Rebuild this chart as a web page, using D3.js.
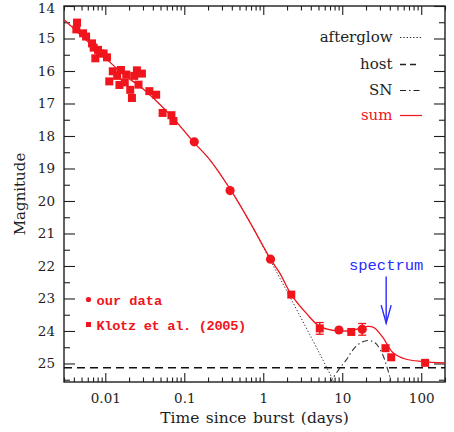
<!DOCTYPE html>
<html><head><meta charset="utf-8">
<script src="https://cdn.jsdelivr.net/npm/d3@7"></script>
<style>
html,body{margin:0;padding:0;background:#fff;}
svg{display:block;}
</style></head>
<body>
<svg id="chart" width="454" height="432"></svg>
<script>
// ---- data ----
const klotzPoints = [ // [days, mag] squares
  [0.00439,14.51],[0.00430,14.72],[0.00523,14.84],[0.00571,14.94],[0.00679,15.15],
  [0.00712,15.28],[0.00809,15.35],[0.00748,15.61],[0.00847,15.46],[0.00952,15.46],
  [0.0105,15.58],[0.01244,16.01],[0.01123,16.32],[0.01413,16.15],[0.01578,15.97],
  [0.01511,16.43],[0.01763,16.35],[0.01842,16.11],[0.02069,16.58],[0.02174,16.83],
  [0.02513,15.98],[0.02324,16.15],[0.02907,16.08],[0.02634,16.42],[0.03615,16.62],
  [0.04405,16.73],[0.05321,17.29],[0.06874,17.36],[0.07286,17.54],
  [2.263,22.88],[5.19,23.92],[13.0,24.03],[35.3,24.53],[41.7,24.81],[112,24.98]
];
const ourPoints = [ // [days, mag] circles
  [0.1337,18.18],[0.380,19.68],[1.236,21.79],[9.08,23.97],[17.9,23.95]
];
const errorBars = [ // [days, mag, err]
  [5.19,23.92,0.18],[17.9,23.95,0.18]
];
const sumCurve = [
  [0.00303,14.43],[0.00865,15.45],[0.01763,16.14],[0.02767,16.48],[0.0662,17.35],
  [0.1302,18.18],[0.212,18.74],[0.387,19.66],[0.677,20.65],[1.236,21.79],[1.62,22.22],
  [2.263,22.88],[3.52,23.46],[5.18,23.86],[7.63,23.98],[11.27,24.00],[15.07,23.95],
  [18.25,23.88],[22.18,23.86],[25.6,23.91],[32.66,24.20],[43.67,24.66],[64.5,24.87],
  [104.4,24.94],[200,24.98]
];
const afterglowCurve = [
  [0.00303,14.43],[0.00865,15.45],[0.01763,16.14],[0.02767,16.48],[0.0662,17.35],
  [0.1302,18.18],[0.212,18.74],[0.387,19.66],[0.677,20.66],[1.236,21.84],
  [2.263,23.03],[5.18,24.70],[8.3,25.68]
];
const snCurve = [
  [7.0,25.65],[7.14,25.57],[9.27,25.15],[11.27,24.89],[13.65,24.58],[16.59,24.38],
  [20.15,24.30],[23.5,24.31],[26.96,24.40],[32.66,24.74],[36.67,25.10],[39.67,25.38],[41.2,25.68]
];
const hostMag = 25.13;
const spectrumDay = 36;
const spectrumArrow = [22.32, 23.76]; // mag of arrow top, tip
const xTickValues = [0.01, 0.1, 1, 10, 100];
const xTickLabels = ["0.01", "0.1", "1", "10", "100"];
const yTickValues = [14,15,16,17,18,19,20,21,22,23,24,25];
const yMinorValues = [14.5,15.5,16.5,17.5,18.5,19.5,20.5,21.5,22.5,23.5,24.5,25.5];
const legendItems = ["afterglow", "host", "SN", "sum"];
const dataLegend = ["our data", "Klotz et al. (2005)"];

// ---- layout ----
const L = 64, R = 445, T = 6, B = 382;
const RED = "#f0141c", TXT = "#1e1e1e";
const svg = d3.select("#chart");
const x = d3.scaleLog().domain([0.003, 200]).range([L, R]);
const y = d3.scaleLinear().domain([14, 25.57]).range([T, B]);

const xMinor = [];
[0.001,0.01,0.1,1,10,100].forEach(d => { for (let k = 2; k <= 9; k++) { const v = d*k; if (v >= 0.003 && v <= 200) xMinor.push(v); } });

svg.append("defs").append("clipPath").attr("id","clip")
  .append("rect").attr("x",L).attr("y",T).attr("width",R-L).attr("height",B-T);

function styleAxis(g){ g.select(".domain").remove(); g.selectAll(".tick line").attr("stroke",TXT).attr("stroke-width",1.1); }
const serif = "'DejaVu Serif', serif";

// bottom axis major + labels
svg.append("g").attr("transform",`translate(0,${B})`)
  .call(d3.axisBottom(x).tickValues(xTickValues).tickFormat((d,i)=>xTickLabels[i]).tickSizeInner(-9).tickSizeOuter(0).tickPadding(11))
  .call(styleAxis)
  .call(g=>g.selectAll("text").attr("font-family",serif).attr("font-size",13.5).attr("fill",TXT));
svg.append("g").attr("transform",`translate(0,${B})`)
  .call(d3.axisBottom(x).tickValues(xMinor).tickFormat("").tickSizeInner(-4.5).tickSizeOuter(0)).call(styleAxis);
// top axis
svg.append("g").attr("transform",`translate(0,${T})`)
  .call(d3.axisTop(x).tickValues(xTickValues).tickFormat("").tickSizeInner(-9).tickSizeOuter(0)).call(styleAxis);
svg.append("g").attr("transform",`translate(0,${T})`)
  .call(d3.axisTop(x).tickValues(xMinor).tickFormat("").tickSizeInner(-4.5).tickSizeOuter(0)).call(styleAxis);
// left axis
svg.append("g").attr("transform",`translate(${L},0)`)
  .call(d3.axisLeft(y).tickValues(yTickValues).tickFormat(d3.format("d")).tickSizeInner(-11).tickSizeOuter(0).tickPadding(9))
  .call(styleAxis)
  .call(g=>g.selectAll("text").attr("font-family",serif).attr("font-size",13.5).attr("fill",TXT)
    .filter(d=>d===14).attr("dy","0.45em"));
svg.append("g").attr("transform",`translate(${L},0)`)
  .call(d3.axisLeft(y).tickValues(yMinorValues.filter(v=>v<=25.57)).tickFormat("").tickSizeInner(-6).tickSizeOuter(0)).call(styleAxis);
// right axis
svg.append("g").attr("transform",`translate(${R},0)`)
  .call(d3.axisRight(y).tickValues(yTickValues).tickFormat("").tickSizeInner(-11).tickSizeOuter(0)).call(styleAxis);
svg.append("g").attr("transform",`translate(${R},0)`)
  .call(d3.axisRight(y).tickValues(yMinorValues.filter(v=>v<=25.57)).tickFormat("").tickSizeInner(-6).tickSizeOuter(0)).call(styleAxis);

// frame
svg.append("rect").attr("x",L).attr("y",T).attr("width",R-L).attr("height",B-T)
  .attr("fill","none").attr("stroke",TXT).attr("stroke-width",1.4);

// axis titles
svg.append("text").attr("x",(L+R)/2).attr("y",423).attr("text-anchor","middle")
  .attr("font-family",serif).attr("font-size",15.5).attr("fill",TXT).attr("word-spacing",1.5)
  .text("Time since burst (days)");
svg.append("text").attr("transform",`translate(25,${(T+B)/2}) rotate(-90)`).attr("text-anchor","middle")
  .attr("font-family",serif).attr("font-size",15).attr("fill",TXT).text("Magnitude");

// curves
const plot = svg.append("g").attr("clip-path","url(#clip)");
const line = d3.line().x(d=>x(d[0])).y(d=>y(d[1])).curve(d3.curveCatmullRom.alpha(0.5));
plot.append("line").attr("x1",L).attr("x2",R).attr("y1",y(hostMag)).attr("y2",y(hostMag))
  .attr("stroke","#111").attr("stroke-width",1.6).attr("stroke-dasharray","8,5");
plot.append("path").datum(afterglowCurve).attr("d",line).attr("fill","none")
  .attr("stroke","#333").attr("stroke-width",1).attr("stroke-dasharray","1.3,2");
plot.append("path").datum(snCurve).attr("d",line).attr("fill","none")
  .attr("stroke","#333").attr("stroke-width",1.1).attr("stroke-dasharray","6,3,1.5,3");
plot.append("path").datum(sumCurve).attr("d",line).attr("fill","none")
  .attr("stroke",RED).attr("stroke-width",1.3);

// error bars
errorBars.forEach(e=>{
  const g = plot.append("g").attr("stroke",RED).attr("stroke-width",1.3);
  g.append("line").attr("x1",x(e[0])).attr("x2",x(e[0])).attr("y1",y(e[1]-e[2])).attr("y2",y(e[1]+e[2]));
  [e[1]-e[2], e[1]+e[2]].forEach(v=>g.append("line").attr("x1",x(e[0])-4).attr("x2",x(e[0])+4).attr("y1",y(v)).attr("y2",y(v)));
});
// markers
plot.selectAll("rect.k").data(klotzPoints).join("rect").attr("class","k")
  .attr("x",d=>x(d[0])-4).attr("y",d=>y(d[1])-4).attr("width",8).attr("height",8).attr("fill",RED);
plot.selectAll("circle.o").data(ourPoints).join("circle").attr("class","o")
  .attr("cx",d=>x(d[0])).attr("cy",d=>y(d[1])).attr("r",4.6).attr("fill",RED);

// spectrum arrow
const BLUE = "#2a2aff";
const ax = x(spectrumDay);
svg.append("text").attr("x",ax).attr("y",270).attr("text-anchor","middle")
  .attr("font-family","'Liberation Mono', monospace").attr("font-size",15.5).attr("fill",BLUE).text("spectrum");
svg.append("line").attr("x1",ax).attr("x2",ax).attr("y1",y(spectrumArrow[0])).attr("y2",y(spectrumArrow[1]))
  .attr("stroke",BLUE).attr("stroke-width",1.4);
svg.append("path").attr("d",`M${ax-5},${y(spectrumArrow[1])-18}L${ax},${y(spectrumArrow[1])}L${ax+5},${y(spectrumArrow[1])-18}`)
  .attr("fill","none").attr("stroke",BLUE).attr("stroke-width",1.4);

// top-right legend
const legY = [42, 69, 95, 120];
const legDash = ["1.3,2", "6,4", "6,3,1.5,3", null];
legendItems.forEach((t,i)=>{
  svg.append("text").attr("x",392.5).attr("y",legY[i]).attr("text-anchor","end")
    .attr("font-family",serif).attr("font-size",15).attr("fill", i===3?RED:TXT).text(t);
  const ln = svg.append("line").attr("x1",400).attr("x2",i===1?418:422).attr("y1",legY[i]-4.5).attr("y2",legY[i]-4.5)
    .attr("stroke", i===3?RED:"#222").attr("stroke-width", i===1?1.6:1.2);
  if (legDash[i]) ln.attr("stroke-dasharray",legDash[i]);
});

// bottom-left data legend
const mono = "'Liberation Mono', monospace";
svg.append("circle").attr("cx",88.5).attr("cy",299.5).attr("r",2.6).attr("fill",RED);
svg.append("rect").attr("x",86).attr("y",322).attr("width",5).attr("height",5).attr("fill",RED);
dataLegend.forEach((t,i)=>{
  svg.append("text").attr("x",96.5).attr("y",[304.5,329.5][i])
    .attr("font-family",mono).attr("font-size",13.7).attr("font-weight","bold")
    .attr("letter-spacing", i===1 ? -0.35 : 0).attr("fill",RED).text(t);
});
</script>
</body></html>
